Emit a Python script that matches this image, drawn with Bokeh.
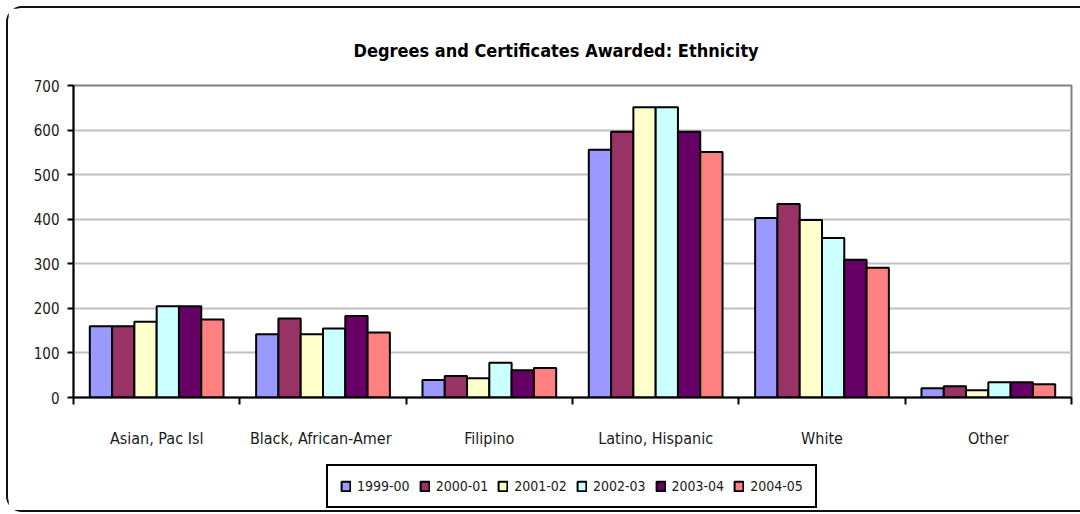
from bokeh.plotting import figure
from bokeh.layouts import column
from bokeh.models import (ColumnDataSource, Range1d, LinearAxis,
                          FixedTicker, SingleIntervalTicker, Legend, LegendItem)
from bokeh.transform import dodge
from bokeh.embed import file_html
from bokeh.resources import INLINE

categories = ["Asian, Pac Isl", "Black,  African-Amer", "Filipino", "Latino, Hispanic", "White", "Other"]
years = ["1999-00", "2000-01", "2001-02", "2002-03", "2003-04", "2004-05"]
v_1999_00 = [160, 142, 39, 556, 403, 21]
v_2000_01 = [160, 177, 48, 596, 434, 25]
v_2001_02 = [170, 142, 43, 651, 398, 16]
v_2002_03 = [205, 155, 78, 651, 358, 34]
v_2003_04 = [205, 183, 61, 596, 309, 34]
v_2004_05 = [175, 146, 66, 551, 291, 30]
series = [v_1999_00, v_2000_01, v_2001_02, v_2002_03, v_2003_04, v_2004_05]
colors = ["#9999FF", "#993366", "#FFFFCC", "#CCFFFF", "#660066", "#FF8080"]

FONT = "'DejaVu Sans Condensed', 'Liberation Sans', sans-serif"
TXT = "#1a1a1a"

n = len(categories)
centers = [i + 0.5 for i in range(n)]
data = {"xc": centers}
for y, vals in zip(years, series):
    data[y] = vals
source = ColumnDataSource(data)

W = 1072
p = figure(x_range=Range1d(0, n), y_range=Range1d(0, 700),
           width=W, height=455, output_backend="svg", toolbar_location=None,
           x_axis_location=None, y_axis_location=None)
p.min_border_left = 65
p.min_border_right = 9
p.min_border_top = 77
p.min_border_bottom = 66
p.background_fill_color = "white"
p.border_fill_color = "white"
p.outline_line_color = "#808080"
p.outline_line_width = 2

# title
p.title.text = "Degrees and Certificates Awarded: Ethnicity"
p.title.align = "left"
p.title.text_font = FONT
p.title.text_font_style = "bold"
p.title.text_font_size = "18px"
p.title.text_color = "#000000"
p.title.standoff = 50
p.title.offset = 280

# y axis
yax = LinearAxis(ticker=SingleIntervalTicker(interval=100))
yax.axis_line_color = "black"
yax.axis_line_width = 2
yax.major_tick_line_color = "black"
yax.major_tick_line_width = 2
yax.major_tick_out = 6
yax.major_tick_in = 0
yax.minor_tick_line_color = None
yax.major_label_text_font = FONT
yax.major_label_text_font_size = "15px"
yax.major_label_text_color = TXT
yax.major_label_standoff = 8
p.add_layout(yax, "left")

# category axis: labels at centres, ticks (minor) at boundaries
xax = LinearAxis(ticker=FixedTicker(ticks=centers, minor_ticks=list(range(n + 1))))
xax.major_label_overrides = {c: lab for c, lab in zip(centers, categories)}
xax.axis_line_color = "black"
xax.axis_line_width = 2
xax.major_tick_line_color = None
xax.major_tick_out = 0
xax.major_tick_in = 0
xax.minor_tick_line_color = "black"
xax.minor_tick_line_width = 2
xax.minor_tick_out = 7
xax.minor_tick_in = 0
xax.major_label_text_font = FONT
xax.major_label_text_font_size = "16px"
xax.major_label_text_color = TXT
xax.major_label_standoff = 24
p.add_layout(xax, "below")

p.xgrid.visible = False
p.ygrid.grid_line_color = "#c0c0c0"
p.ygrid.grid_line_width = 2
p.ygrid.ticker = SingleIntervalTicker(interval=100)

w = 0.134
for j, (y, c) in enumerate(zip(years, colors)):
    p.vbar(x=dodge("xc", (j - 2.5) * w), top=y, width=w, bottom=0,
           source=source, fill_color=c, line_color="black", line_width=2)

# legend strip (its renderers are hidden; only the legend shows)
q = figure(x_range=Range1d(0, n), y_range=Range1d(0, 700), width=W, height=47,
           output_backend="svg", toolbar_location=None,
           x_axis_location=None, y_axis_location=None)
q.min_border = 0
q.outline_line_color = None
q.xgrid.visible = False
q.ygrid.visible = False
q.background_fill_color = "white"
q.border_fill_color = "white"
items = []
for j, (y, c) in enumerate(zip(years, colors)):
    r = q.vbar(x=dodge("xc", (j - 2.5) * w), top=y, width=w, bottom=0,
               source=source, fill_color=c, line_color="black", line_width=2)
    r.visible = False
    items.append(LegendItem(label=y, renderers=[r]))

legend = Legend(items=items, orientation="horizontal", location=(253, 2))
legend.label_text_font = FONT
legend.label_text_font_size = "14px"
legend.label_text_color = TXT
legend.glyph_width = 11
legend.glyph_height = 12
legend.label_standoff = 6
legend.spacing = 9
legend.padding = 12
legend.margin = 0
legend.inactive_fill_alpha = 0
legend.border_line_color = "black"
legend.border_line_alpha = 1
legend.border_line_width = 2
legend.background_fill_color = "white"
legend.background_fill_alpha = 1
q.add_layout(legend, "center")

layout = column(p, q, spacing=0)
layout.styles = {"margin-left": "6px", "margin-top": "6px",
                 "border-left": "2px solid #111", "border-top": "2px solid #111",
                 "border-bottom": "2px solid #111", "border-radius": "16px 0 0 16px"}

open("out.html", "w").write(file_html(layout, INLINE))
